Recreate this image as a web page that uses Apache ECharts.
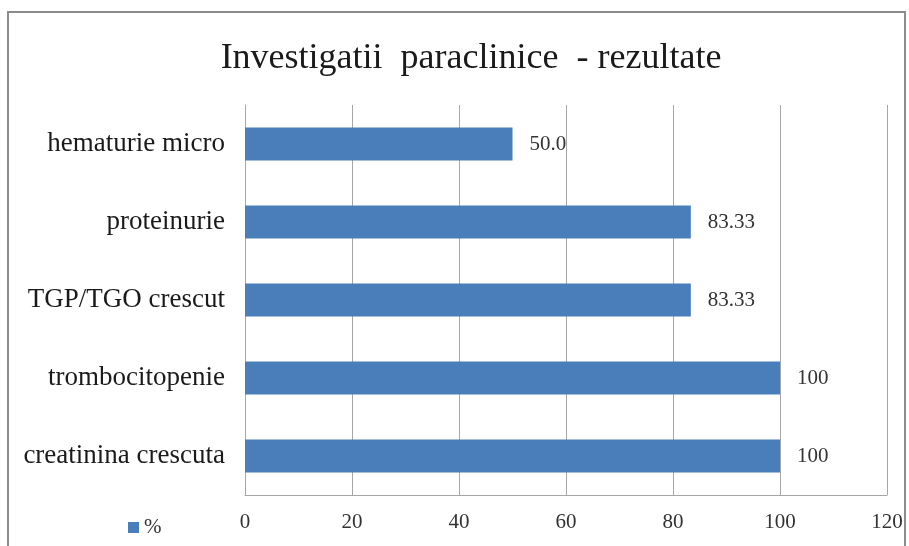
<!DOCTYPE html>
<html><head><meta charset="utf-8">
<script src="https://cdn.jsdelivr.net/npm/echarts@6/dist/echarts.min.js"></script>
<style>html,body{margin:0;padding:0;background:#fff}#c{width:909px;height:546px}</style>
</head><body><div id="c"></div>
<script>
const categories = ["creatinina crescuta", "trombocitopenie", "TGP/TGO crescut", "proteinurie", "hematurie micro"];
const values = [100, 100, 83.33, 83.33, 50.0];
const valueLabels = ["100", "100", "83.33", "83.33", "50.0"];
const xTicks = [0, 20, 40, 60, 80, 100, 120];
const seriesName = "%";

const chart = echarts.init(document.getElementById('c'), null, {renderer: 'canvas'});
const serif = '"Liberation Serif", "DejaVu Serif", serif';
chart.setOption({
  animation: false,
  backgroundColor: '#fff',
  title: {
    text: 'Investigatii  paraclinice  - rezultate',
    left: 466, top: 36, textAlign: 'center',
    textStyle: {fontFamily: serif, fontSize: 36, fontWeight: 'normal', color: '#1a1a1a'}
  },
  graphic: [{
    type: 'rect', shape: {x: 8, y: 12, width: 897, height: 560},
    style: {fill: 'none', stroke: '#8c8c8c', lineWidth: 2}, silent: true
  }],
  legend: {
    data: [seriesName], left: 123, top: 512, itemWidth: 11, itemHeight: 11, itemGap: 4,
    icon: 'rect',
    textStyle: {fontFamily: serif, fontSize: 21, color: '#333'}
  },
  grid: {left: 245, right: 22, top: 105, bottom: 51, containLabel: false},
  xAxis: {
    type: 'value', min: 0, max: 120, interval: 20,
    axisLine: {show: true, lineStyle: {color: '#a6a6a6'}},
    axisTick: {show: false},
    splitLine: {show: true, lineStyle: {color: '#a6a6a6', width: 1}},
    axisLabel: {fontFamily: serif, fontSize: 21, color: '#333', margin: 17,
      formatter: v => xTicks.includes(v) ? String(v) : ''}
  },
  yAxis: {
    type: 'category', data: categories,
    axisLine: {show: true, lineStyle: {color: '#a6a6a6'}},
    axisTick: {show: false},
    axisLabel: {fontFamily: serif, fontSize: 27, color: '#1a1a1a', margin: 20}
  },
  series: [{
    name: seriesName, type: 'bar', data: values, barWidth: '42%',
    itemStyle: {color: '#4a7ebb'},
    label: {show: true, position: 'right', distance: 17,
      fontFamily: serif, fontSize: 21, color: '#333',
      formatter: p => valueLabels[p.dataIndex]}
  }]
});
</script></body></html>
